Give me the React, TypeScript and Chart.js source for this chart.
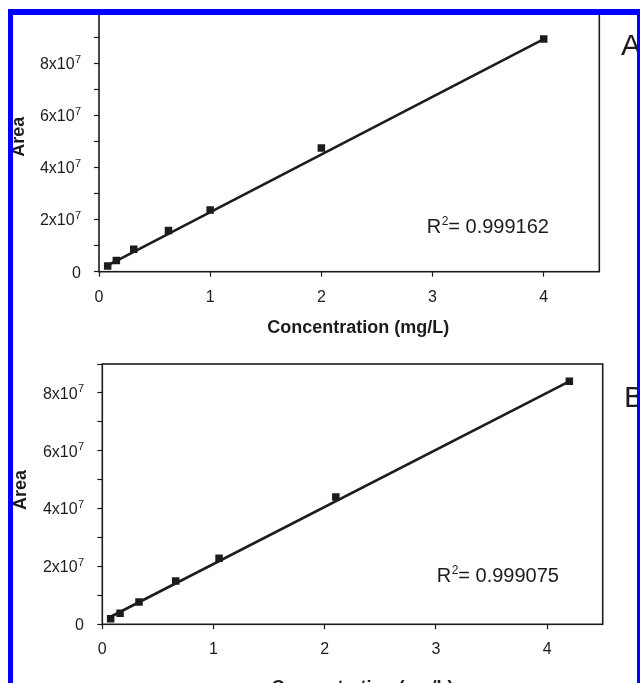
import { useEffect, useRef } from 'react';
import { Chart, registerables } from 'chart.js';

Chart.register(...registerables);

// Calibration A: concentration (mg/L) vs peak area
const concA = [0.078, 0.156, 0.3125, 0.625, 1, 2, 4];
const areaA = [2.2e6, 4.3e6, 8.6e6, 1.58e7, 2.37e7, 4.75e7, 8.93e7];
const fitConcA = [0.078, 4];
const fitAreaA = [2.4e6, 8.93e7];
const r2A = '0.999162';

// Calibration B
const concB = [0.075, 0.16, 0.33, 0.66, 1.05, 2.1, 4.2];
const areaB = [1.9e6, 3.8e6, 7.7e6, 1.5e7, 2.28e7, 4.4e7, 8.4e7];
const fitConcB = [0.075, 4.2];
const fitAreaB = [2.6e6, 8.4e7];
const r2B = '0.999075';

// Axis ticks
const xTickValues = [0, 1, 2, 3, 4];
const xTickLabels = ['0', '1', '2', '3', '4'];
const yTickValuesA = [0, 1e7, 2e7, 3e7, 4e7, 5e7, 6e7, 7e7, 8e7, 9e7, 1e8];
const yTickValuesB = [0, 1e7, 2e7, 3e7, 4e7, 5e7, 6e7, 7e7, 8e7, 9e7];
// y labels: mantissa text and power-of-ten exponent ('' = plain number)
const yLabelValues = [0, 2e7, 4e7, 6e7, 8e7];
const yLabelBase = ['0', '2x10', '4x10', '6x10', '8x10'];
const yLabelExp = ['', '7', '7', '7', '7'];

const INK = '#1c1c1c';
const FONT = "'Liberation Sans', Arial, Helvetica, sans-serif";

type Layout = {
  top: number; // canvas top on the page
  h: number; // canvas height
  yAxisW: number;
  plotTop: number;
  plotBottom: number;
  plotRight: number;
  xAxisH: number;
  yLabelRight: number;
  r2Dx: number; // R² text left, from plot right
  r2Dy: number; // R² baseline, above plot bottom
  xTitleDx: number;
  xTitleDy: number;
  yTitleX: number;
  yTitleY: number;
  letterX: number;
  letterY: number;
};

type PanelProps = {
  conc: number[];
  area: number[];
  fitConc: number[];
  fitArea: number[];
  r2: string;
  letter: string;
  yMax: number;
  yTicks: number[];
  layout: Layout;
};

function Panel(p: PanelProps) {
  const ref = useRef<HTMLCanvasElement>(null);
  const L = p.layout;

  useEffect(() => {
    const decor = {
      id: 'decor',
      beforeDatasetsDraw(chart: any) {
        const { left, top, right, bottom } = chart.chartArea;
        const ctx = chart.ctx;
        ctx.save();
        ctx.strokeStyle = INK;
        ctx.lineWidth = 1.6;
        ctx.strokeRect(left, top, right - left, bottom - top);
        ctx.restore();
      },
      afterDraw(chart: any) {
        const { left, right, bottom } = chart.chartArea;
        const ctx = chart.ctx;
        const yScale = chart.scales.y;
        ctx.save();
        ctx.fillStyle = INK;
        ctx.textBaseline = 'alphabetic';

        // y tick labels with superscript exponents
        yLabelValues.forEach((v, i) => {
          if (v > p.yMax) return;
          const y = yScale.getPixelForValue(v);
          let xr = L.yLabelRight;
          if (yLabelExp[i]) {
            ctx.font = `11px ${FONT}`;
            ctx.textAlign = 'right';
            ctx.fillText(yLabelExp[i], xr, y - 0.5);
            xr -= ctx.measureText(yLabelExp[i]).width + 0.3;
          }
          ctx.font = `16px ${FONT}`;
          ctx.textAlign = 'right';
          ctx.fillText(yLabelBase[i], xr, y + 5.8);
        });

        // R² annotation
        ctx.textAlign = 'left';
        let x = right - L.r2Dx;
        const by = bottom - L.r2Dy;
        ctx.font = `20px ${FONT}`;
        ctx.fillText('R', x, by);
        x += ctx.measureText('R').width + 0.5;
        ctx.font = `12px ${FONT}`;
        ctx.fillText('2', x, by - 8);
        x += ctx.measureText('2').width;
        ctx.font = `20px ${FONT}`;
        ctx.fillText(`= ${p.r2}`, x, by);

        // x title
        ctx.font = `bold 18px ${FONT}`;
        ctx.textAlign = 'center';
        ctx.fillText('Concentration (mg/L)', (left + right) / 2 + L.xTitleDx, bottom + L.xTitleDy);

        // y title
        ctx.save();
        ctx.translate(L.yTitleX, L.yTitleY);
        ctx.rotate(-Math.PI / 2);
        ctx.textBaseline = 'middle';
        ctx.fillText('Area', 0, 0);
        ctx.restore();

        // panel letter
        ctx.font = `30px ${FONT}`;
        ctx.textAlign = 'left';
        ctx.fillText(p.letter, L.letterX, L.letterY);
        ctx.restore();
      },
    };

    const chart = new Chart(ref.current as HTMLCanvasElement, {
      type: 'scatter',
      data: {
        datasets: [
          {
            data: p.fitConc.map((x, i) => ({ x, y: p.fitArea[i] })),
            showLine: true,
            pointRadius: 0,
            borderColor: INK,
            borderWidth: 2.6,
            backgroundColor: INK,
          },
          {
            data: p.conc.map((x, i) => ({ x, y: p.area[i] })),
            pointStyle: 'rect',
            pointRadius: 5.3,
            backgroundColor: INK,
            borderWidth: 0,
          },
        ],
      } as any,
      options: {
        animation: false,
        responsive: false,
        maintainAspectRatio: false,
        devicePixelRatio: 1,
        events: [],
        layout: {
          autoPadding: false,
          padding: {
            left: 0,
            top: L.plotTop,
            right: 640 - L.plotRight,
            bottom: L.h - L.plotBottom - L.xAxisH,
          },
        },
        plugins: { legend: { display: false }, tooltip: { enabled: false } },
        scales: {
          x: {
            type: 'linear',
            min: 0,
            max: 4.5,
            afterFit: (s: any) => {
              s.height = L.xAxisH;
              s.paddingLeft = 0;
              s.paddingRight = 0;
            },
            afterBuildTicks: (s: any) => {
              s.ticks = xTickValues.map((v) => ({ value: v }));
            },
            border: { display: false },
            grid: {
              drawOnChartArea: false,
              drawTicks: true,
              tickLength: 5,
              tickColor: INK,
              tickWidth: 1.2,
            },
            ticks: {
              autoSkip: false,
              maxRotation: 0,
              padding: 11,
              color: INK,
              font: { family: FONT, size: 16 },
              callback: (v: any) => {
                const i = xTickValues.indexOf(Number(v));
                return i >= 0 ? xTickLabels[i] : '';
              },
            },
          },
          y: {
            type: 'linear',
            min: 0,
            max: p.yMax,
            afterFit: (s: any) => {
              s.width = L.yAxisW;
              s.paddingTop = 0;
              s.paddingBottom = 0;
            },
            afterBuildTicks: (s: any) => {
              s.ticks = p.yTicks.map((v) => ({ value: v }));
            },
            border: { display: false },
            grid: {
              drawOnChartArea: false,
              drawTicks: true,
              tickLength: 5,
              tickColor: INK,
              tickWidth: 1.2,
            },
            ticks: {
              autoSkip: false,
              padding: 13,
              color: INK,
              font: { family: FONT, size: 16 },
              // labels are drawn by the decor plugin (superscript exponents)
              callback: () => '',
            },
          },
        },
      } as any,
      plugins: [decor],
    });
    return () => chart.destroy();
  }, []);

  return (
    <canvas
      ref={ref}
      width={640}
      height={L.h}
      style={{ position: 'absolute', left: 0, top: L.top, width: 640, height: L.h }}
    />
  );
}

const layoutA: Layout = {
  top: 0,
  h: 345,
  yAxisW: 99,
  plotTop: 11.2,
  plotBottom: 271.7,
  plotRight: 599.3,
  xAxisH: 70,
  yLabelRight: 81,
  r2Dx: 172.6,
  r2Dy: 38.4,
  xTitleDx: 9,
  xTitleDy: 61.4,
  yTitleX: 19,
  yTitleY: 136.7,
  letterX: 621,
  letterY: 55,
};

const layoutB: Layout = {
  top: 345,
  h: 360,
  yAxisW: 102.3,
  plotTop: 19,
  plotBottom: 279.3,
  plotRight: 602.7,
  xAxisH: 70,
  yLabelRight: 84,
  r2Dx: 166,
  r2Dy: 42.6,
  xTitleDx: 10,
  xTitleDy: 68.6,
  yTitleX: 21,
  yTitleY: 145,
  letterX: 624,
  letterY: 62,
};

export default function App() {
  return (
    <div
      style={{
        position: 'fixed',
        left: 0,
        top: 0,
        width: 640,
        height: 683,
        overflow: 'hidden',
        background: '#fff',
      }}
    >
      <Panel
        conc={concA}
        area={areaA}
        fitConc={fitConcA}
        fitArea={fitAreaA}
        r2={r2A}
        letter="A"
        yMax={1e8}
        yTicks={yTickValuesA}
        layout={layoutA}
      />
      <Panel
        conc={concB}
        area={areaB}
        fitConc={fitConcB}
        fitArea={fitAreaB}
        r2={r2B}
        letter="B"
        yMax={9e7}
        yTicks={yTickValuesB}
        layout={layoutB}
      />
      <div
        style={{
          position: 'absolute',
          left: 8,
          top: 9,
          width: 634,
          height: 720,
          boxSizing: 'border-box',
          borderStyle: 'solid',
          borderColor: '#0000ff',
          borderWidth: '6px 5px 5px 5px',
          pointerEvents: 'none',
        }}
      />
    </div>
  );
}
